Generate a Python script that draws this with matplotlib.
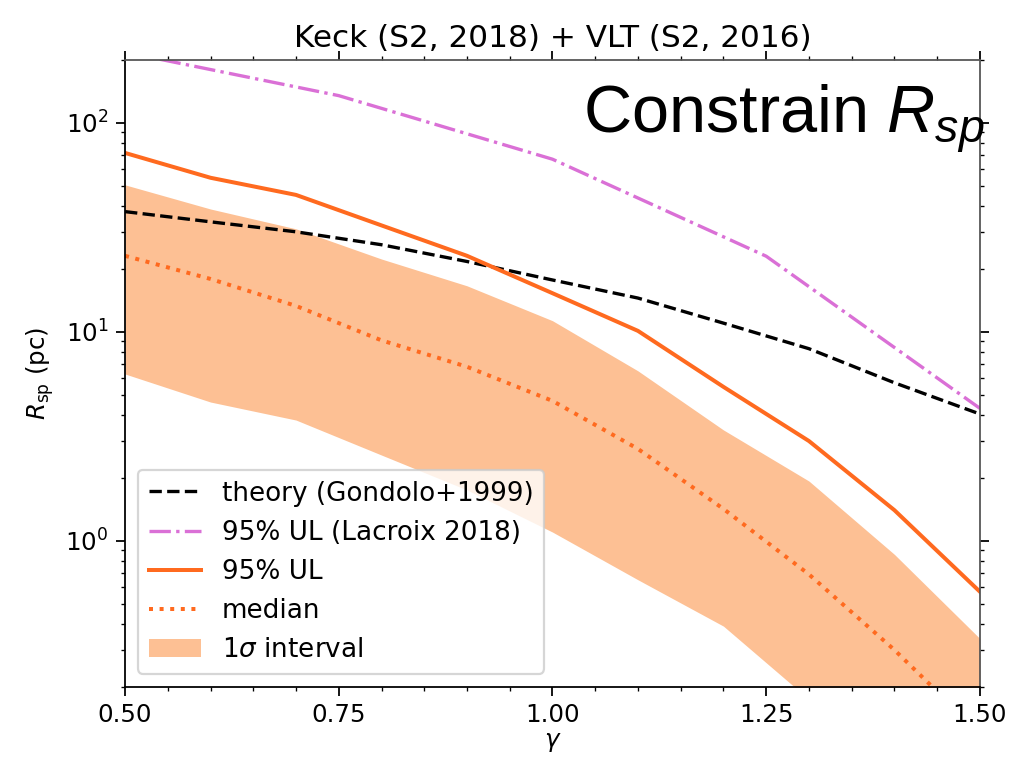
import matplotlib
matplotlib.use("Agg")
import matplotlib.pyplot as plt
from matplotlib.ticker import MultipleLocator

gamma = [0.5, 0.6, 0.7, 0.8, 0.9, 1.0, 1.1, 1.2, 1.3, 1.4, 1.5]
theory = [37.6, 33.6, 30.1, 26.1, 21.7, 17.7, 14.5, 11.0, 8.3, 5.7, 4.04]
ul95 = [71.8, 54.6, 45.2, 32.3, 23.1, 15.3, 10.1, 5.45, 3.0, 1.40, 0.57]
median = [23.1, 17.9, 13.3, 9.1, 6.8, 4.67, 2.75, 1.42, 0.69, 0.30, 0.12]
band_hi = [50.5, 38.7, 31.1, 22.3, 16.6, 11.3, 6.5, 3.39, 1.93, 0.86, 0.34]
band_lo = [6.28, 4.61, 3.78, 2.57, 1.75, 1.10, 0.65, 0.39, 0.174, 0.06, 0.02]

gamma_lacroix = [0.5, 0.75, 1.0, 1.25, 1.5]
ul_lacroix = [218, 135, 67, 23, 4.3]

orange = "#ff6a1f"
band_color = "#fdc094"

plt.rcParams["mathtext.fontset"] = "dejavusans"
plt.rcParams["mathtext.it"] = "Liberation Sans:italic"
plt.rcParams["mathtext.rm"] = "Liberation Sans"

fig, ax = plt.subplots(figsize=(6.40625, 4.80625), dpi=160)
fig.subplots_adjust(left=0.122, right=0.956, bottom=0.107, top=0.922)

ax.fill_between(gamma, band_lo, band_hi, color=band_color, lw=0, label=r"1$\sigma$ interval")
ax.plot(gamma, theory, "k--", lw=1.5, label="theory (Gondolo+1999)")
ax.plot(gamma_lacroix, ul_lacroix, "-.", color="orchid", lw=1.5, label="95% UL (Lacroix 2018)")
ax.plot(gamma, ul95, "-", color=orange, lw=1.8, label="95% UL")
ax.plot(gamma, median, ":", color=orange, lw=1.8, label="median")

ax.set_yscale("log")
ax.set_xlim(0.5, 1.5)
ax.set_ylim(0.2, 200)
ax.xaxis.set_major_locator(MultipleLocator(0.25))
ax.xaxis.set_minor_locator(MultipleLocator(0.05))
ax.tick_params(which="both", direction="out", top=True, right=True, labelsize=11)
ax.tick_params(which="major", length=4)
ax.tick_params(which="minor", length=2)
for side in ["top", "right"]:
    ax.spines[side].set_color("#555555")

ax.set_xlabel(r"$\gamma$", fontsize=11, labelpad=1)
ax.set_ylabel(r"$R_{\rm sp}$ (pc)", fontsize=11)
ax.set_title("Keck (S2, 2018) + VLT (S2, 2016)", fontsize=14)

handles, labels = ax.get_legend_handles_labels()
order = [1, 2, 3, 4, 0]
ax.legend([handles[i] for i in order], [labels[i] for i in order],
          loc="lower left", fontsize=11.8)

ax.text(1.005, 0.965, r"Constrain $R_{sp}$", transform=ax.transAxes,
        ha="right", va="top", fontsize=30, family="Liberation Sans",
        math_fontfamily="custom")

fig.savefig("out.png")
